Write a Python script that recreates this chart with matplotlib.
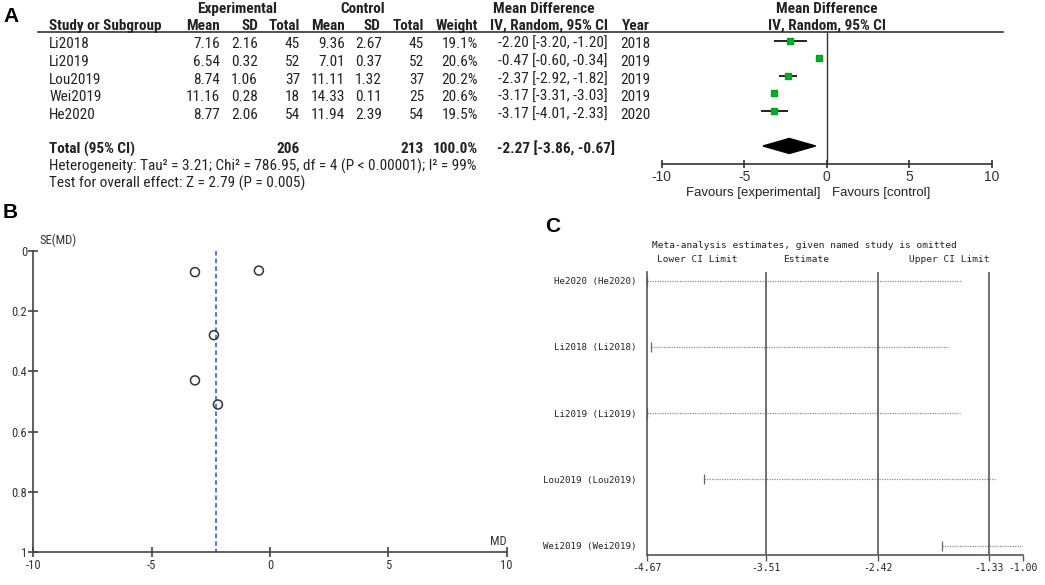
import numpy as np
import matplotlib
matplotlib.use("Agg")
import matplotlib.pyplot as plt
from matplotlib import font_manager
from matplotlib.font_manager import FontProperties
from matplotlib.lines import Line2D
from matplotlib.patches import Polygon

# ----------------------------------------------------------------------
# Data
# ----------------------------------------------------------------------
studies = ["Li2018", "Li2019", "Lou2019", "Wei2019", "He2020"]
exp_mean = [7.16, 6.54, 8.74, 11.16, 8.77]
exp_sd = [2.16, 0.32, 1.06, 0.28, 2.06]
exp_n = [45, 52, 37, 18, 54]
ctl_mean = [9.36, 7.01, 11.11, 14.33, 11.94]
ctl_sd = [2.67, 0.37, 1.32, 0.11, 2.39]
ctl_n = [45, 52, 37, 25, 54]
weight = [19.1, 20.6, 20.2, 20.6, 19.5]
md = [-2.20, -0.47, -2.37, -3.17, -3.17]
md_lo = [-3.20, -0.60, -2.92, -3.31, -4.01]
md_hi = [-1.20, -0.34, -1.82, -3.03, -2.33]
year = [2018, 2019, 2019, 2019, 2020]
total_exp, total_ctl = 206, 213
pooled_md, pooled_lo, pooled_hi = -2.27, -3.86, -0.67

# funnel plot: standard error of each MD
se_md = [0.51, 0.066, 0.28, 0.071, 0.43]

# sensitivity analysis (one study omitted)
sens_study = ["He2020", "Li2018", "Li2019", "Lou2019", "Wei2019"]
sens_lo = [-4.67, -4.63, -4.67, -4.11, -1.79]
sens_hi = [-1.61, -1.72, -1.62, -1.28, -1.00]
sens_lines = [-3.51, -2.42, -1.33]
sens_ticks = [-4.67, -3.51, -2.42, -1.33, -1.00]

HET = ("Heterogeneity: Tau\u00b2 = 3.21; Chi\u00b2 = 786.95, df = 4 "
       "(P < 0.00001); I\u00b2 = 99%")

# ----------------------------------------------------------------------
# fonts: the table uses a narrow sans; look for one, else plain sans
# ----------------------------------------------------------------------
W, H = 1045, 585
SANS = "Liberation Sans"
MONO = "DejaVu Sans Mono"


def _is_bold(f):
    return f.weight in (700, "bold")


def _is_regular(f):
    return f.weight in (400, "normal", "regular", "book")


def pick_narrow():
    fl = [f for f in font_manager.fontManager.ttflist if f.style == "normal"]
    prefs = ["Liberation Sans Narrow", "Arial Narrow", "Roboto Condensed",
             "Open Sans Condensed", "Noto Sans Condensed"]
    for name in prefs:
        reg = [f for f in fl if f.name == name and _is_regular(f)]
        bld = [f for f in fl if f.name == name and _is_bold(f)]
        if reg:
            return reg[0].fname, (bld[0].fname if bld else reg[0].fname)
    for name in ["Roboto", "Noto Sans", "Open Sans", "DejaVu Sans"]:
        reg = [f for f in fl if f.name == name and _is_regular(f)
               and "condensed" in str(f.stretch)]
        bld = [f for f in fl if f.name == name and _is_bold(f)
               and "condensed" in str(f.stretch)]
        if reg:
            return reg[0].fname, (bld[0].fname if bld else reg[0].fname)
    return None, None


fig = plt.figure(figsize=(W / 100, H / 100), dpi=100)
renderer = fig.canvas.get_renderer()

REG_FILE, BOLD_FILE = pick_narrow()


def fp(bold=False, size=9.0):
    if REG_FILE:
        return FontProperties(fname=BOLD_FILE if bold else REG_FILE,
                              size=size)
    return FontProperties(family=SANS, weight="bold" if bold else "normal",
                          size=size)


def text_width(prop, s):
    t = fig.text(0, 0, s, fontproperties=prop)
    w = t.get_window_extent(renderer).width
    t.remove()
    return w


# size the table font so the heterogeneity line is as wide as in the figure
TSIZE = 9.0 * 426.0 / text_width(fp(size=9.0), HET)
TSIZE = min(TSIZE, 11.0)


def px(x, y):
    return x / W, 1 - y / H


def rect(l, t, r, b):
    return [l / W, 1 - b / H, (r - l) / W, (b - t) / H]


def put(x, y, s, ha="left", bold=False, size=None, prop=None):
    if prop is None:
        prop = fp(bold, size or TSIZE)
    fig.text(*px(x, y), s, ha=ha, va="center", fontproperties=prop,
             color="#222222")


def put_family(x, y, s, family, size, ha="left", bold=False):
    fig.text(*px(x, y), s, ha=ha, va="center", family=family, fontsize=size,
             fontweight="bold" if bold else "normal", color="#222222")


# panel letters
for x, y, s in [(3, 17, "A"), (3, 213, "B"), (545, 227, "C")]:
    fig.text(*px(x, y), s, fontsize=15, fontweight="bold", family=SANS,
             va="center")

# ----------------------------------------------------------------------
# Panel A: table
# ----------------------------------------------------------------------
put(237, 9, "Experimental", ha="center", bold=True)
put(362.5, 9, "Control", ha="center", bold=True)
put(544, 9, "Mean Difference", ha="center", bold=True)
put(827, 9, "Mean Difference", ha="center", bold=True)

hdr_y = 26
put(49, hdr_y, "Study or Subgroup", bold=True)
for x, s in [(220, "Mean"), (258, "SD"), (300, "Total"), (345, "Mean"),
             (380, "SD"), (424, "Total"), (478, "Weight")]:
    put(x, hdr_y, s, ha="right", bold=True)
put(490, hdr_y, "IV, Random, 95% CI", bold=True)
put(622, hdr_y, "Year", bold=True)
put(827, hdr_y, "IV, Random, 95% CI", ha="center", bold=True)
fig.add_artist(Line2D([38 / W, 1003 / W], [1 - 32 / H, 1 - 32 / H],
                      color="#333333", lw=1.2))

row_y = [44.3, 62.3, 80, 97.3, 115]
for i, name in enumerate(studies):
    y = row_y[i]
    put(49, y, name)
    put(220, y, f"{exp_mean[i]:.2f}", ha="right")
    put(258, y, f"{exp_sd[i]:.2f}", ha="right")
    put(300, y, f"{exp_n[i]}", ha="right")
    put(345, y, f"{ctl_mean[i]:.2f}", ha="right")
    put(382, y, f"{ctl_sd[i]:.2f}", ha="right")
    put(424, y, f"{ctl_n[i]}", ha="right")
    put(478, y, f"{weight[i]:.1f}%", ha="right")
    put(498, y, f"{md[i]:.2f} [{md_lo[i]:.2f}, {md_hi[i]:.2f}]")
    put(620, y, f"{year[i]}")

ty = 149
put(49, ty, "Total (95% CI)", bold=True)
put(300, ty, f"{total_exp}", ha="right", bold=True)
put(424, ty, f"{total_ctl}", ha="right", bold=True)
put(478, ty, "100.0%", ha="right", bold=True)
put(497, ty, f"{pooled_md:.2f} [{pooled_lo:.2f}, {pooled_hi:.2f}]", bold=True)
put(49, 166.7, HET)
put(49, 183.3, "Test for overall effect: Z = 2.79 (P = 0.005)")

# ----------------------------------------------------------------------
# Panel A: forest plot
# ----------------------------------------------------------------------
axf = fig.add_axes(rect(661.7, 32, 991.7, 164))
rows = np.arange(len(studies))
axf.hlines(rows, md_lo, md_hi, color="#222222", lw=1.4, zorder=2)
axf.plot(md, rows, "s", color="#00b22d", ms=4.6, mec="#00a020", zorder=3)
dia = Polygon([[pooled_lo, 6], [pooled_md, 6 - 0.43], [pooled_hi, 6],
               [pooled_md, 6 + 0.43]], closed=True, color="black", zorder=3)
axf.add_patch(dia)
axf.axvline(0, color="#333333", lw=1.0)
axf.set_xlim(-10, 10)
axf.set_ylim(7.03, -0.514)
for s in ["top", "right", "left"]:
    axf.spines[s].set_visible(False)
axf.spines["bottom"].set_color("#333333")
axf.spines["bottom"].set_linewidth(1.2)
axf.set_yticks([])
axf.set_xticks([-10, -5, 0, 5, 10])
axf.set_xticklabels(["-10", "-5", "0", "5", "10"])
axf.tick_params(axis="x", direction="inout", length=6, width=1.2,
                color="#333333", pad=1, labelsize=10, labelcolor="#333333")
for lab in axf.get_xticklabels():
    lab.set_family(SANS)
axf.patch.set_alpha(0)
put_family(820, 193, "Favours [experimental]", SANS, 9.5, ha="right")
put_family(832, 193, "Favours [control]", SANS, 9.5)

# ----------------------------------------------------------------------
# Panel B: funnel plot
# ----------------------------------------------------------------------
BSIZE = 9.0
axb = fig.add_axes(rect(33.3, 250.7, 506.7, 552.3))
axb.scatter(md, se_md, s=42, facecolors="none", edgecolors="#333333",
            linewidths=1.1, zorder=3)
axb.plot([pooled_md, pooled_md], [0, 1], color="#2a4fd0", lw=1.1,
         ls=(0, (3, 2)))
axb.set_xlim(-10, 10)
axb.set_ylim(1, 0)
for s in ["top", "right"]:
    axb.spines[s].set_visible(False)
for s in ["left", "bottom"]:
    axb.spines[s].set_color("#444444")
    axb.spines[s].set_linewidth(1.2)
axb.set_xticks([-10, -5, 0, 5, 10])
axb.set_xticklabels(["-10", "-5", "0", "5", "10"])
axb.set_yticks([0, 0.2, 0.4, 0.6, 0.8, 1])
axb.set_yticklabels(["0", "0.2", "0.4", "0.6", "0.8", "1"])
axb.tick_params(direction="inout", length=7, width=1.2, color="#444444",
                labelcolor="#333333", pad=1)
for lab in axb.get_xticklabels() + axb.get_yticklabels():
    lab.set_fontproperties(fp(size=BSIZE))
axb.text(-9.75, -0.012, "SE(MD)", fontproperties=fp(size=BSIZE),
         color="#333333", va="bottom", ha="left")
axb.text(10, 0.985, "MD", fontproperties=fp(size=BSIZE), color="#333333",
         va="bottom", ha="right")
axb.patch.set_alpha(0)

# ----------------------------------------------------------------------
# Panel C: sensitivity analysis
# ----------------------------------------------------------------------
CSIZE = 6.8
axc = fig.add_axes(rect(646.7, 271.7, 1023.3, 555))
srows = np.arange(len(sens_study))
axc.hlines(srows, sens_lo, sens_hi, color="#8a8a8a", lw=0.9,
           linestyles=(0, (1, 1)))
axc.plot(sens_lo, srows, "|", color="#666666", ms=7, mew=0.9)
for v in sens_lines:
    axc.axvline(v, color="#5e5555", lw=1.2)
axc.set_xlim(-4.67, -1.00)
axc.set_ylim(4.14, -0.136)
for s in ["top", "right"]:
    axc.spines[s].set_visible(False)
for s in ["left", "bottom"]:
    axc.spines[s].set_color("#5e5555")
    axc.spines[s].set_linewidth(1.2)
axc.set_xticks(sens_ticks)
axc.set_xticklabels([f"{v:.2f}" for v in sens_ticks])
axc.set_yticks(srows)
axc.set_yticklabels([f"{s} ({s})" for s in sens_study])
axc.tick_params(axis="y", length=0, pad=7)
axc.tick_params(axis="x", length=4, width=1.0, color="#5e5555", pad=2)
for lab in axc.get_yticklabels():
    lab.set_fontsize(6.6)
for lab in axc.get_xticklabels():
    lab.set_fontsize(7.0)
for lab in axc.get_xticklabels() + axc.get_yticklabels():
    lab.set_family(MONO)
    lab.set_color("#222222")
put_family(652, 245, "Meta-analysis estimates, given named study is omitted",
           MONO, CSIZE)
put_family(657, 259, "Lower CI Limit", MONO, CSIZE)
put_family(783, 259, "Estimate", MONO, CSIZE)
put_family(909, 260, "Upper CI Limit", MONO, CSIZE)
axc.patch.set_alpha(0)

fig.savefig("out.png", dpi=100)
